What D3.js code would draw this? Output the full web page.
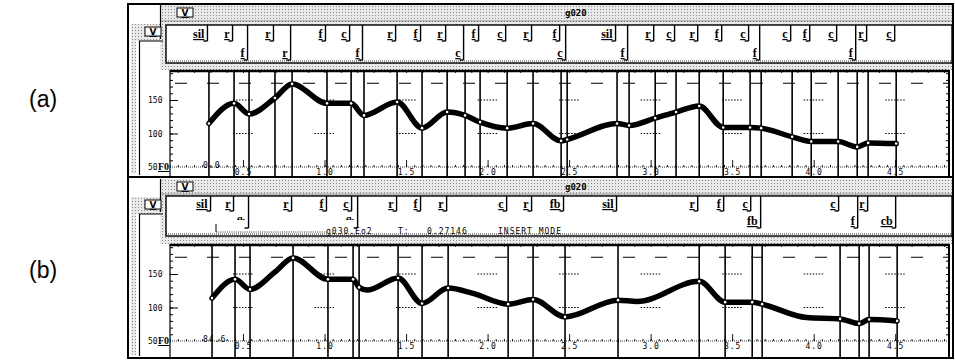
<!DOCTYPE html>
<html>
<head>
<meta charset="utf-8">
<title>F0 contour editor</title>
<script src="https://cdn.jsdelivr.net/npm/d3@7"></script>
<style>
  body { margin: 0; background: #fff; }
  text { font-family: "DejaVu Sans Mono", monospace; fill: #000; }
  .lab { font-family: "Liberation Serif", serif; font-weight: bold; font-size: 12px; text-decoration: underline; }
  .small { font-size: 8px; letter-spacing: 1px; }
</style>
</head>
<body>
<script>
// axis ticks
var timeTicks = [0.5, 1.0, 1.5, 2.0, 2.5, 3.0, 3.5, 4.0, 4.5];
var timeTickLabels = ["0.5", "1.0", "1.5", "2.0", "2.5", "3.0", "3.5", "4.0", "4.5"];
var hzTicks = [50, 100, 150];
var hzTickLabels = ["50", "100", "150"];
var hzDotted = [100, 150];
var hzDashed = 175;

// (a) segment boundaries (s), labels and tier row
var bndA = [0.291, 0.445, 0.537, 0.696, 0.801, 1.015, 1.163, 1.242, 1.445, 1.598, 1.752, 1.862, 1.954, 2.120, 2.279, 2.451, 2.488, 2.794, 2.868, 3.028, 3.156, 3.298, 3.445, 3.610, 3.678, 3.868, 3.985, 4.150, 4.267, 4.334, 4.506];
var labA = ["sil", "r", "f", "r", "r", "f", "c", "f", "r", "f", "r", "c", "f", "c", "r", "f", "c", "sil", "f", "r", "c", "r", "f", "c", "f", "c", "f", "c", "f", "r", "c"];
var rowA = [1, 1, 2, 1, 2, 1, 1, 2, 1, 1, 1, 2, 1, 1, 1, 1, 2, 1, 2, 1, 1, 1, 1, 1, 2, 1, 1, 1, 2, 1, 1];
// (a) F0 contour
var f0TimeA = [0.291, 0.445, 0.537, 0.696, 0.801, 1.015, 1.163, 1.242, 1.445, 1.598, 1.752, 1.862, 1.954, 2.120, 2.279, 2.451, 2.488, 2.794, 2.868, 3.028, 3.156, 3.298, 3.445, 3.610, 3.678, 3.868, 3.985, 4.150, 4.267, 4.334, 4.506];
var f0HzA = [115, 145, 129, 153, 174, 145, 145, 127, 147, 108, 132, 127, 117, 108, 115, 89, 91, 115, 112, 123, 132, 141, 109, 109, 108, 95, 88, 88, 80, 86, 85];

// (b) segment boundaries, labels and tier row (row 3 = half hidden label)
var bndB = [0.310, 0.451, 0.543, 0.807, 1.021, 1.175, 1.212, 1.451, 1.598, 1.758, 2.126, 2.279, 2.475, 2.800, 3.298, 3.457, 3.623, 3.684, 4.162, 4.279, 4.340, 4.512];
var labB = ["sil", "r", "fb", "r", "f", "c", "fb", "r", "f", "r", "c", "r", "fb", "sil", "r", "f", "c", "fb", "c", "f", "r", "cb"];
var rowB = [1, 1, 3, 1, 1, 1, 3, 1, 1, 1, 1, 1, 1, 1, 1, 1, 1, 2, 1, 2, 1, 2];
// (b) F0 contour
var f0TimeB = [0.310, 0.451, 0.543, 0.696, 0.807, 1.021, 1.175, 1.212, 1.261, 1.451, 1.598, 1.758, 1.911, 2.126, 2.279, 2.475, 2.800, 2.917, 3.298, 3.457, 3.623, 3.684, 3.957, 4.162, 4.279, 4.340, 4.512];
var f0HzB = [114, 142, 127, 153, 174, 142, 142, 130, 126, 144, 106, 129, 121, 105, 112, 86, 111, 109, 139, 108, 108, 105, 85, 83, 76, 82, 80];

var W = 955, H = 361;
var svg = d3.select("body").append("svg").attr("width", W).attr("height", H);

var defs = svg.append("defs");
var pat = defs.append("pattern").attr("id", "stip")
  .attr("width", 3).attr("height", 3).attr("patternUnits", "userSpaceOnUse");
pat.append("rect").attr("width", 3).attr("height", 3).attr("fill", "#e9e9e9");
pat.append("rect").attr("width", 1).attr("height", 1).attr("fill", "#8c8c8c");

var x = d3.scaleLinear().domain([0, 4.83]).range([161.5, 949]);
var plotL = 170, plotR = 949;

var panels = [
  { id: "a", name: "(a)", nameY: 107, top: 4, bottom: 177, t0: 5, t1: 21, tierTop: 25, tierBot: 63,
    row1: 38, row2: 57, plotTop: 70, axisY: 167, plotBot: 176, yr: [167, 66.5], start: "0.0",
    bnd: bndA, lab: labA, row: rowA, ft: f0TimeA, fh: f0HzA },
  { id: "b", name: "(b)", nameY: 278, top: 177, bottom: 358, t0: 179, t1: 194, tierTop: 196, tierBot: 236,
    row1: 208, row2: 225, plotTop: 244, axisY: 341, plotBot: 357, yr: [341, 240.5], start: "84.6",
    bnd: bndB, lab: labB, row: rowB, ft: f0TimeB, fh: f0HzB }
];

panels.forEach(function(p) {
  var g = svg.append("g");
  var y = d3.scaleLinear().domain([50, 200]).range(p.yr);

  // side label
  g.append("text").attr("x", 29).attr("y", p.nameY)
    .style("font-family", "Liberation Sans, sans-serif").style("font-size", "23px")
    .text(p.name);

  // window frame and chrome
  g.append("rect").attr("x", 128).attr("y", p.top).attr("width", 825).attr("height", p.bottom - p.top)
    .attr("fill", "#fff").attr("stroke", "#000").attr("stroke-width", 2);
  g.append("rect").attr("x", 160).attr("y", p.t0).attr("width", 792).attr("height", p.plotTop - p.t0)
    .attr("fill", "url(#stip)");
  g.append("line").attr("x1", 160).attr("x2", 952).attr("y1", p.t1).attr("y2", p.t1)
    .attr("stroke", "#555").attr("stroke-width", 0.6);
  // back window on the left
  g.append("rect").attr("x", 131).attr("y", p.t1 + 3).attr("width", 5).attr("height", p.bottom - p.t1 - 6)
    .attr("fill", "url(#stip)");
  g.append("rect").attr("x", 136).attr("y", p.t1 + 3).attr("width", 27).attr("height", 17)
    .attr("fill", "url(#stip)");
  g.append("line").attr("x1", 139.5).attr("x2", 139.5).attr("y1", p.t1 + 20).attr("y2", p.bottom - 2)
    .attr("stroke", "#000").attr("stroke-width", 1.2);
  g.append("line").attr("x1", 139).attr("x2", 163).attr("y1", p.t1 + 20).attr("y2", p.t1 + 20)
    .attr("stroke", "#000").attr("stroke-width", 1);
  g.append("line").attr("x1", 160.5).attr("x2", 160.5).attr("y1", p.t0).attr("y2", p.t1 + 18)
    .attr("stroke", "#000").attr("stroke-width", 1.2);

  // V buttons
  [[177, p.t0 + 3], [145, p.t1 + 6]].forEach(function(b) {
    g.append("rect").attr("x", b[0]).attr("y", b[1]).attr("width", 16).attr("height", 9)
      .attr("fill", "#fff").attr("stroke", "#000").attr("stroke-width", 1);
    g.append("text").attr("x", b[0] + 8).attr("y", b[1] + 8).attr("text-anchor", "middle")
      .style("font-family", "DejaVu Sans, sans-serif").style("font-weight", "bold").style("font-size", "9px")
      .style("text-decoration", "underline").text("V");
  });
  g.append("text").attr("x", 565).attr("y", p.t0 + 11)
    .style("font-weight", "bold").style("font-size", "9px").text("g020");

  // tier box
  g.append("rect").attr("x", 166).attr("y", p.tierTop).attr("width", 786).attr("height", p.tierBot - p.tierTop)
    .attr("fill", "#fff").attr("stroke", "#000").attr("stroke-width", 1.4);
  g.append("line").attr("x1", 166).attr("x2", 952).attr("y1", p.tierBot - 2).attr("y2", p.tierBot - 2)
    .attr("stroke", "#000").attr("stroke-width", 0.8).attr("stroke-dasharray", "1,1");

  // plot box
  g.append("rect").attr("x", plotL).attr("y", p.plotTop).attr("width", plotR - plotL).attr("height", p.plotBot - p.plotTop)
    .attr("fill", "#fff");
  var cid = "clip" + p.id;
  defs.append("clipPath").attr("id", cid).append("rect")
    .attr("x", plotL).attr("y", p.plotTop).attr("width", plotR - plotL).attr("height", p.plotBot - p.plotTop);
  var pg = g.append("g").attr("clip-path", "url(#" + cid + ")");

  // grid: short dotted pieces around each major time tick, dashed upper line
  var gridT = [0].concat(timeTicks);
  hzDotted.forEach(function(h) {
    pg.selectAll(null).data(gridT).enter().append("line")
      .attr("x1", function(d) { return x(d) - 10; })
      .attr("x2", function(d) { return x(d) + 10; })
      .attr("y1", y(h)).attr("y2", y(h))
      .attr("stroke", "#000").attr("stroke-width", 1).attr("stroke-dasharray", "1.5,1.5");
  });
  pg.append("line").attr("x1", plotL + 5).attr("x2", plotR).attr("y1", y(hzDashed)).attr("y2", y(hzDashed))
    .attr("stroke", "#000").attr("stroke-width", 1).attr("stroke-dasharray", "12,20");

  // time axes (top ruler and bottom axis)
  var minorT = d3.range(0.1, 4.83, 0.1);
  var topAx = pg.append("g").attr("transform", "translate(0," + p.plotTop + ")")
    .call(d3.axisBottom(x).tickValues(minorT).tickSize(3).tickFormat(""));
  topAx.select(".domain").remove();
  var botMinor = pg.append("g").attr("transform", "translate(0," + p.axisY + ")")
    .call(d3.axisTop(x).tickValues(d3.range(0.05, 4.83, 0.05)).tickSize(2).tickFormat(""));
  botMinor.select(".domain").remove();
  var botMajor = pg.append("g").attr("transform", "translate(0," + p.axisY + ")")
    .call(d3.axisTop(x).tickValues(timeTicks).tickSize(7).tickFormat(""));
  botMajor.select(".domain").remove();
  var botLab = pg.append("g").attr("transform", "translate(0," + p.axisY + ")")
    .call(d3.axisBottom(x).tickValues(timeTicks).tickSize(0).tickPadding(2)
      .tickFormat(function(d, i) { return timeTickLabels[i]; }));
  botLab.select(".domain").remove();
  botLab.selectAll("text").attr("class", "small").style("font-family", "DejaVu Sans Mono, monospace").style("font-size", "8px");
  pg.selectAll(".tick line").attr("stroke", "#000").attr("stroke-width", 0.9);

  g.append("line").attr("x1", plotL).attr("x2", plotR).attr("y1", p.plotTop + 1).attr("y2", p.plotTop + 1)
    .attr("stroke", "#000").attr("stroke-width", 2.5);
  g.append("line").attr("x1", plotL).attr("x2", plotR).attr("y1", p.axisY).attr("y2", p.axisY)
    .attr("stroke", "#000").attr("stroke-width", 0.8).attr("stroke-dasharray", "1,1");

  // F0 axes
  var minorH = d3.range(60, 200, 10);
  var lAx = g.append("g").attr("transform", "translate(" + plotL + ",0)")
    .call(d3.axisRight(y).tickValues(minorH).tickSize(3).tickFormat(""));
  lAx.select(".domain").remove();
  var lMaj = g.append("g").attr("transform", "translate(" + plotL + ",0)")
    .call(d3.axisRight(y).tickValues(hzDotted).tickSize(8).tickFormat(""));
  lMaj.select(".domain").remove();
  var rAx = g.append("g").attr("transform", "translate(" + plotR + ",0)")
    .call(d3.axisLeft(y).tickValues(minorH).tickSize(3).tickFormat(""));
  rAx.select(".domain").remove();
  g.selectAll(".tick line").attr("stroke", "#000");
  g.append("line").attr("x1", plotL).attr("x2", plotL).attr("y1", p.plotTop).attr("y2", p.plotBot)
    .attr("stroke", "#000").attr("stroke-width", 1.2);
  g.append("line").attr("x1", plotR).attr("x2", plotR).attr("y1", p.plotTop).attr("y2", p.plotBot)
    .attr("stroke", "#000").attr("stroke-width", 2);
  g.selectAll(null).data(hzTicks).enter().append("text")
    .attr("x", 148).attr("y", function(d) { return y(d) + 3; })
    .style("font-size", "8px")
    .text(function(d, i) { return hzTickLabels[i]; });
  g.append("text").attr("x", 158).attr("y", p.axisY + 3)
    .style("font-family", "Liberation Serif, serif").style("font-weight", "bold").style("font-size", "10px")
    .style("text-decoration", "underline").text("F0");
  g.append("text").attr("x", 203).attr("y", p.axisY + 1).attr("class", "small").text(p.start);

  // boundary lines through the plot
  pg.selectAll(null).data(p.bnd).enter().append("line")
    .attr("x1", function(d) { return x(d); }).attr("x2", function(d) { return x(d); })
    .attr("y1", p.plotTop).attr("y2", p.plotBot)
    .attr("stroke", "#000").attr("stroke-width", 1.6);

  // F0 contour
  var pts = p.ft.map(function(t, i) { return [t, p.fh[i]]; });
  var line = d3.line().x(function(d) { return x(d[0]); }).y(function(d) { return y(d[1]); })
    .curve(d3.curveMonotoneX);
  pg.append("path").datum(pts).attr("d", line)
    .attr("fill", "none").attr("stroke", "#000").attr("stroke-width", 5.5)
    .attr("stroke-linecap", "round").attr("stroke-linejoin", "round");
  pg.selectAll(null).data(pts.filter(function(d) {
      return p.bnd.some(function(b) { return Math.abs(b - d[0]) < 0.001; });
    })).enter().append("circle")
    .attr("cx", function(d) { return x(d[0]); }).attr("cy", function(d) { return y(d[1]); })
    .attr("r", 1.3).attr("fill", "#fff");

  // tier labels
  var tcid = "tclip" + p.id;
  defs.append("clipPath").attr("id", tcid).append("rect")
    .attr("x", 160).attr("y", p.tierTop).attr("width", 800).attr("height", p.row2 - 5 - p.tierTop);
  p.bnd.forEach(function(t, i) {
    var xb = x(t) - 1.5;
    var r = p.row[i];
    var ry = r === 1 ? p.row1 : p.row2;
    var lb = ry + 3;
    g.append("line").attr("x1", xb).attr("x2", xb).attr("y1", p.tierTop).attr("y2", lb)
      .attr("stroke", "#000").attr("stroke-width", 1.4);
    g.append("line").attr("x1", xb - 4).attr("x2", xb).attr("y1", lb).attr("y2", lb)
      .attr("stroke", "#000").attr("stroke-width", 1.4);
    var tx = g.append("text").attr("class", "lab").attr("x", xb - 3).attr("y", r === 3 ? ry - 1 : ry)
      .attr("text-anchor", "end").text(p.lab[i]);
    if (r === 3) tx.attr("clip-path", "url(#" + tcid + ")").style("font-size", "10px");
  });

  // status line of the edit window (b)
  if (p.id === "b") {
    g.append("line").attr("x1", 216).attr("x2", 327).attr("y1", 232).attr("y2", 232)
      .attr("stroke", "#000").attr("stroke-width", 0.8).attr("stroke-dasharray", "1,1.2");
    g.append("line").attr("x1", 216).attr("x2", 216).attr("y1", 224).attr("y2", 232)
      .attr("stroke", "#000").attr("stroke-width", 1);
    [["g030.Eo2", 326], ["T:", 398], ["0.27146", 427], ["INSERT MODE", 498]].forEach(function(s) {
      g.append("text").attr("x", s[1]).attr("y", 234).attr("class", "small").text(s[0]);
    });
  }
});
</script>
</body>
</html>
